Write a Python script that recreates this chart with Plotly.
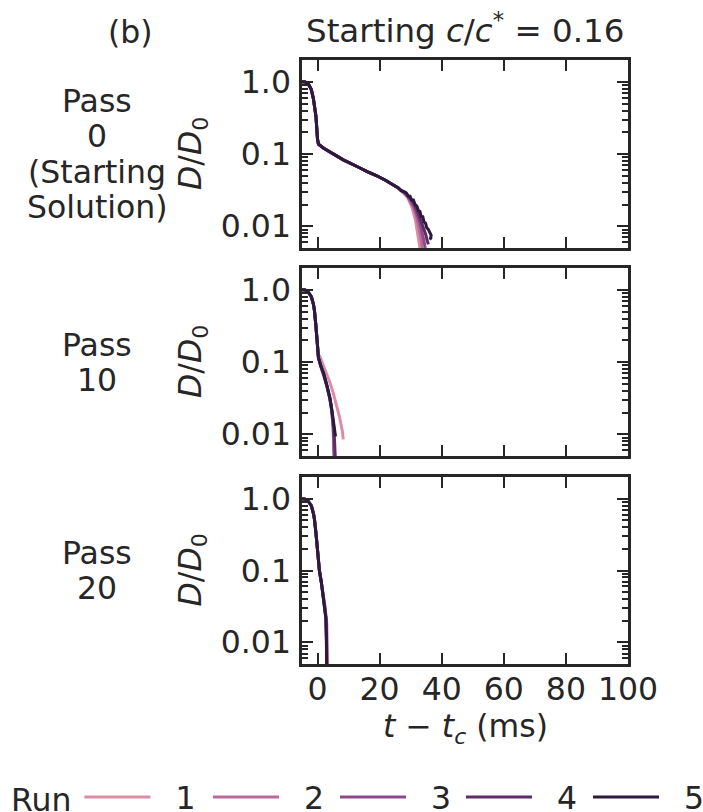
import math
import plotly.graph_objects as go
from plotly.subplots import make_subplots

runs = ["1", "2", "3", "4", "5"]
colors = ["#dc8da4", "#b9699a", "#8d4a8a", "#5c2d67", "#2b1a3d"]
pass_label_lines = [["Pass", "0", "(Starting", "Solution)"], ["Pass", "10"], ["Pass", "20"]]

# ---- Pass 0: shared early part, then per-run tails ----
p0_head_t = [-5, -4, -3, -2.4, -2, -1.35, -1, -0.5, 0, 0.3, 2, 4, 6, 8.3, 10, 13.7, 16, 19.1, 22, 24.5, 26, 27]
p0_head_d = [1.0, 0.99, 0.94, 0.85, 0.78, 0.59, 0.48, 0.33, 0.16, 0.137, 0.12, 0.108, 0.095, 0.083,
             0.077, 0.064, 0.057, 0.050, 0.043, 0.0376, 0.034, 0.031]
p0_r1_t = [28, 29, 29.8, 30.5, 31.5, 32, 32.5, 33.0]
p0_r1_d = [0.028, 0.025, 0.021, 0.018, 0.0125, 0.0095, 0.007, 0.005]
p0_r2_t = [28, 29, 30, 31, 32, 32.8, 33.4, 33.8]
p0_r2_d = [0.029, 0.026, 0.022, 0.018, 0.013, 0.009, 0.0065, 0.005]
p0_r3_t = [28, 29, 30, 31, 32, 33, 33.8, 34.3, 34.7]
p0_r3_d = [0.029, 0.026, 0.023, 0.019, 0.015, 0.011, 0.008, 0.0062, 0.005]
p0_r4_t = [28, 29, 30, 31, 32, 33, 34, 34.8, 35.4, 35.7]
p0_r4_d = [0.030, 0.027, 0.024, 0.021, 0.017, 0.013, 0.0098, 0.0078, 0.0062, 0.0056]
p0_r5_t = [28, 28.6, 29.2, 29.8, 30.3, 30.9, 31.4, 32, 32.5, 33, 33.4, 33.9, 34.3, 34.8, 35.2,
           35.6, 36.0, 36.3, 36.6, 36.4, 36.8]
p0_r5_d = [0.030, 0.029, 0.026, 0.026, 0.023, 0.023, 0.020, 0.019, 0.0165, 0.016, 0.0135, 0.0135,
           0.0115, 0.011, 0.0095, 0.0092, 0.0085, 0.0078, 0.0075, 0.0068, 0.0066]

# ---- Pass 10 ----
p10_head_t = [-5, -4, -3, -2, -1.35, -1, -0.5, 0, 0.3]
p10_head_d = [1.0, 0.99, 0.93, 0.8, 0.64, 0.52, 0.31, 0.18, 0.115]
p10_r1_t = [0.8, 2, 3, 4, 5, 6, 7, 8, 8.3]
p10_r1_d = [0.118, 0.088, 0.068, 0.052, 0.038, 0.027, 0.018, 0.011, 0.0085]
p10_r2_t = [1, 2, 3, 4, 4.6, 5.0, 5.3]
p10_r2_d = [0.088, 0.066, 0.046, 0.030, 0.021, 0.012, 0.005]
p10_r3_t = [1, 2, 3, 4, 4.6, 5.1, 5.4]
p10_r3_d = [0.09, 0.068, 0.047, 0.031, 0.021, 0.012, 0.005]
p10_r4_t = [1, 2, 3, 4, 4.6, 5.2, 5.5, 5.7]
p10_r4_d = [0.09, 0.068, 0.047, 0.031, 0.021, 0.013, 0.008, 0.005]
p10_r5_t = [1, 2, 3, 4, 4.6, 5.2, 5.6, 5.8]
p10_r5_d = [0.09, 0.069, 0.048, 0.032, 0.022, 0.014, 0.0105, 0.0093]

# ---- Pass 20 ----
p20_head_t = [-5, -4, -3, -2, -1.35, -1, -0.5, 0, 0.6, 1.2]
p20_head_d = [1.0, 0.98, 0.92, 0.8, 0.63, 0.52, 0.33, 0.2, 0.1, 0.07]
p20_r1_t = [1.9, 2.5, 3.0, 3.2, 3.3]
p20_r1_d = [0.046, 0.030, 0.018, 0.009, 0.005]
p20_r2_t = [1.9, 2.4, 2.8, 3.0, 3.1]
p20_r2_d = [0.044, 0.030, 0.02, 0.01, 0.005]
p20_r3_t = [1.9, 2.4, 2.75, 2.95, 3.0]
p20_r3_d = [0.043, 0.029, 0.02, 0.01, 0.005]
p20_r4_t = [1.9, 2.4, 2.7, 2.9, 2.95]
p20_r4_d = [0.043, 0.029, 0.021, 0.01, 0.005]
p20_r5_t = [1.9, 2.4, 2.7, 2.85, 2.9]
p20_r5_d = [0.043, 0.029, 0.022, 0.012, 0.005]

passes = [
    (p0_head_t, p0_head_d, [(p0_r1_t, p0_r1_d), (p0_r2_t, p0_r2_d), (p0_r3_t, p0_r3_d),
                            (p0_r4_t, p0_r4_d), (p0_r5_t, p0_r5_d)]),
    (p10_head_t, p10_head_d, [(p10_r1_t, p10_r1_d), (p10_r2_t, p10_r2_d), (p10_r3_t, p10_r3_d),
                              (p10_r4_t, p10_r4_d), (p10_r5_t, p10_r5_d)]),
    (p20_head_t, p20_head_d, [(p20_r1_t, p20_r1_d), (p20_r2_t, p20_r2_d), (p20_r3_t, p20_r3_d),
                              (p20_r4_t, p20_r4_d), (p20_r5_t, p20_r5_d)]),
]

x_ticks = [0, 20, 40, 60, 80, 100]
y_ticks = [0.01, 0.1, 1.0]
y_ticktext = ["0.01", "0.1", "1.0"]
y_minor = [m * 10.0 ** e for e in (-3, -2, -1) for m in range(2, 10)]

INK = "#262626"
FONT = "DejaVu Sans"
FS = 31.5

W, H = 703, 812
ML, MR, MT, MB = 302, 75, 60, 148
PW = W - ML - MR
PH = H - MT - MB


def py(pixel_y):
    return (H - MB - pixel_y) / PH


def px(pixel_x):
    return (pixel_x - ML) / PW


def tfont(size=FS):
    return dict(size=size, color=INK, family=FONT)


legend_names = ["legend", "legend2", "legend3", "legend4", "legend5"]

fig = make_subplots(rows=3, cols=1, shared_xaxes=True)

for row, (ht, hd, tails) in enumerate(passes, start=1):
    for i, (tt, td) in enumerate(tails):
        fig.add_trace(go.Scatter(
            x=ht + tt, y=hd + td, mode="lines",
            line=dict(color=colors[i], width=3),
            name="\u00a0\u00a0" + runs[i], legendgroup=runs[i], showlegend=(row == 1),
            legend=legend_names[i],
        ), row=row, col=1)

boxes = [(60, 248), (268, 456), (477, 664)]
for row in range(1, 4):
    sfx = "" if row == 1 else str(row)
    top, bot = boxes[row - 1]
    fig.layout["yaxis" + sfx].update(
        domain=[py(bot), py(top)], type="log",
        range=[math.log10(0.005), math.log10(2.0)],
        tickvals=y_ticks, ticktext=y_ticktext,
        ticks="inside", ticklen=11, tickwidth=2, tickcolor=INK,
        minor=dict(tickvals=y_minor, ticks="inside", ticklen=6, tickwidth=1.5, tickcolor=INK),
        mirror="allticks", showline=True, linewidth=2.5, linecolor=INK,
        showgrid=False, zeroline=False,
        tickfont=tfont(), ticklabelstandoff=2,
    )
    fig.layout["xaxis" + sfx].update(
        range=[-5, 100], tickvals=x_ticks,
        ticks="inside", ticklen=11, tickwidth=2, tickcolor=INK,
        mirror="allticks", showline=True, linewidth=2.5, linecolor=INK,
        showgrid=False, zeroline=False,
        showticklabels=(row == 3),
        tickfont=tfont(), ticklabelstandoff=-5,
    )
    # y-axis title
    fig.add_annotation(x=px(192), y=py((top + bot) / 2), xref="paper", yref="paper",
                       xanchor="center", yanchor="middle", textangle=-90,
                       text="<i>D</i>/<i>D</i><sub>0</sub>", showarrow=False, font=tfont())

# x-axis title
fig.add_annotation(x=0.5, y=py(728), xref="paper", yref="paper", xanchor="center", yanchor="middle",
                   text="<i>t</i> − <i>t</i><sub><i>c</i></sub> (ms)", showarrow=False, font=tfont())

# row labels, one annotation per text line
label_centers = [[101, 136, 171.5, 207], [345, 380], [553, 588]]
for lines, ys in zip(pass_label_lines, label_centers):
    for txt, yy in zip(lines, ys):
        fig.add_annotation(x=px(97), y=py(yy), xref="paper", yref="paper",
                           xanchor="center", yanchor="middle",
                           text=txt, showarrow=False, font=tfont())

fig.add_annotation(x=0.5, y=1.0, xref="paper", yref="paper", xanchor="center", yanchor="bottom",
                   yshift=8, text="Starting <i>c</i>/<i>c</i><sup>*</sup> = 0.16", showarrow=False,
                   font=tfont(32.5))
fig.add_annotation(x=px(130), y=1.0, xref="paper", yref="paper", xanchor="center", yanchor="bottom",
                   yshift=8, text="(b)", showarrow=False, font=tfont())

# one legend per run, laid out along the bottom row
legend_left_px = [9, 208, 335, 461, 588]
legend_common = dict(orientation="h", xref="container", yref="container", xanchor="left",
                     y=(H - 797) / H, yanchor="middle", font=tfont(), itemwidth=66,
                     bgcolor="rgba(0,0,0,0)")
legend_layout = {}
for k, name in enumerate(legend_names):
    cfg = dict(legend_common, x=legend_left_px[k] / W)
    if k == 0:
        cfg["title"] = dict(text="Run", side="left", font=tfont())
    legend_layout[name] = cfg

fig.update_layout(
    width=W, height=H,
    margin=dict(l=ML, r=MR, t=MT, b=MB, autoexpand=False),
    paper_bgcolor="white", plot_bgcolor="white",
    font=tfont(),
    **legend_layout,
)

fig.write_html("out.html", config={"displayModeBar": False},
               post_script="document.body.style.margin='0px';")
